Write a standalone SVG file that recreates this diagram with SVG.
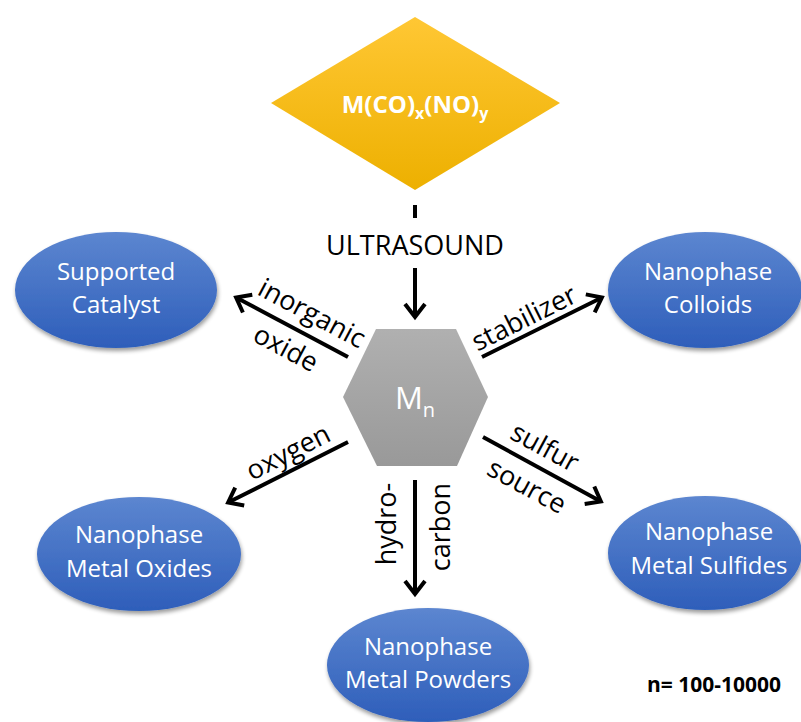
<svg xmlns="http://www.w3.org/2000/svg" width="801" height="722" viewBox="0 0 801 722">
<style>
  text { font-family: "Open Sans", "Liberation Sans", sans-serif; }
  .node-t { fill: #ffffff; font-size: 24px; text-anchor: middle; }
  .lbl { fill: #000000; font-size: 27px; text-anchor: middle; }
  .conn { stroke: #000000; stroke-width: 4; fill: none; }
  .ell { fill: url(#blue); filter: url(#shadow); }
</style>
<defs>
  <linearGradient id="blue" x1="0" y1="0" x2="0" y2="1">
    <stop offset="0" stop-color="#5C86D0"/>
    <stop offset="1" stop-color="#2E5EBA"/>
  </linearGradient>
  <linearGradient id="gold" x1="0" y1="0" x2="0" y2="1">
    <stop offset="0" stop-color="#FFC734"/>
    <stop offset="1" stop-color="#EDB000"/>
  </linearGradient>
  <linearGradient id="gray" x1="0" y1="0" x2="0" y2="1">
    <stop offset="0" stop-color="#B0B0B0"/>
    <stop offset="1" stop-color="#999999"/>
  </linearGradient>
  <filter id="shadow" x="-10%" y="-10%" width="125%" height="130%">
    <feGaussianBlur in="SourceAlpha" stdDeviation="2"/>
    <feOffset dx="1" dy="3" result="b"/>
    <feComponentTransfer><feFuncA type="linear" slope="0.4"/></feComponentTransfer>
    <feMerge><feMergeNode/><feMergeNode in="SourceGraphic"/></feMerge>
  </filter>
  <marker id="arrow" markerUnits="userSpaceOnUse" viewBox="0 0 20 26" markerWidth="20" markerHeight="26" refX="15" refY="13" orient="auto">
    <path d="M3,3 L16,13 L3,23" fill="none" stroke="#000000" stroke-width="4"/>
  </marker>
</defs>

<g id="connectors">
  <line class="conn" x1="415" y1="205" x2="415" y2="218"/>
  <line class="conn" x1="415" y1="268" x2="415" y2="316" marker-end="url(#arrow)"/>
  <line class="conn" x1="348" y1="357" x2="237" y2="298" marker-end="url(#arrow)"/>
  <line class="conn" x1="482" y1="357" x2="601" y2="298" marker-end="url(#arrow)"/>
  <line class="conn" x1="348" y1="442" x2="229" y2="502" marker-end="url(#arrow)"/>
  <line class="conn" x1="483" y1="437" x2="600" y2="501" marker-end="url(#arrow)"/>
  <line class="conn" x1="415" y1="480" x2="415" y2="593" marker-end="url(#arrow)"/>
  <text class="lbl" x="415" y="255" font-size="28">ULTRASOUND</text>
  <text class="lbl" transform="translate(312,313) rotate(28)" dy="0.35em">inorganic</text>
  <text class="lbl" transform="translate(286,348) rotate(28)" dy="0.35em">oxide</text>
  <text class="lbl" transform="translate(524,318) rotate(-26.6)" dy="0.35em">stabilizer</text>
  <text class="lbl" transform="translate(288,452) rotate(-27)" dy="0.35em">oxygen</text>
  <text class="lbl" transform="translate(545,447) rotate(28.5)" dy="0.35em">sulfur</text>
  <text class="lbl" transform="translate(527,486) rotate(28.5)" dy="0.35em">source</text>
  <text class="lbl" transform="translate(387,524) rotate(-90)" dy="0.35em">hydro-</text>
  <text class="lbl" transform="translate(441,527) rotate(-90)" dy="0.35em">carbon</text>
</g>

<g id="precursor">
  <polygon points="415,17 560,103 415,190 271,103" fill="url(#gold)"/>
  <text x="415" y="113" fill="#ffffff" font-size="24" font-weight="bold" text-anchor="middle">M(CO)<tspan font-size="16" dy="6">x</tspan><tspan dy="-6">(NO)</tspan><tspan font-size="16" dy="6">y</tspan></text>
</g>

<g id="mn">
  <polygon points="376,329 456,329 488,397 457,466 377,466 343,397" fill="url(#gray)"/>
  <text x="415" y="409" fill="#ffffff" font-size="31" text-anchor="middle">M<tspan font-size="20" dy="8">n</tspan></text>
</g>

<g id="supported-catalyst">
  <ellipse class="ell" cx="116" cy="290" rx="101" ry="58"/>
  <text class="node-t" x="116" y="280">Supported</text>
  <text class="node-t" x="116" y="313">Catalyst</text>
</g>

<g id="nanophase-colloids">
  <ellipse class="ell" cx="705" cy="290" rx="97" ry="58"/>
  <text class="node-t" x="708" y="280">Nanophase</text>
  <text class="node-t" x="708" y="313">Colloids</text>
</g>

<g id="nanophase-metal-oxides">
  <ellipse class="ell" cx="139" cy="554" rx="102" ry="57"/>
  <text class="node-t" x="139" y="543">Nanophase</text>
  <text class="node-t" x="139" y="577">Metal Oxides</text>
</g>

<g id="nanophase-metal-sulfides">
  <ellipse class="ell" cx="705" cy="553" rx="97" ry="57"/>
  <text class="node-t" x="709" y="540">Nanophase</text>
  <text class="node-t" x="709" y="574">Metal Sulfides</text>
</g>

<g id="nanophase-metal-powders">
  <ellipse class="ell" cx="428" cy="665" rx="101" ry="57"/>
  <text class="node-t" x="428" y="655">Nanophase</text>
  <text class="node-t" x="428" y="688">Metal Powders</text>
</g>

<g id="note">
  <text x="714" y="692" fill="#000000" font-size="21" font-weight="bold" text-anchor="middle">n= 100-10000</text>
</g>
</svg>
